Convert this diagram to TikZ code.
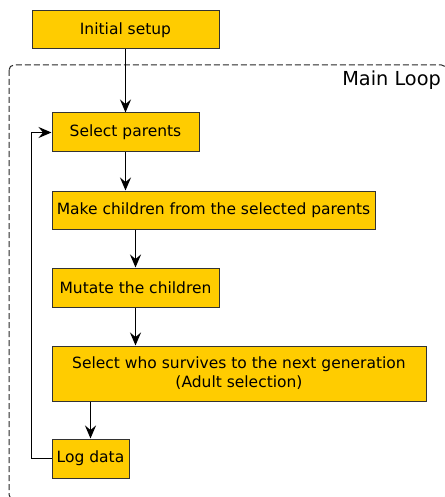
\documentclass[tikz,border=0pt]{standalone}
\usepackage{fontspec}
\setmainfont{DejaVu Sans}
\usetikzlibrary{arrows.meta}

\definecolor{Cstepgold}{HTML}{FFCC00}
\definecolor{Cstepedge}{HTML}{333333}

\tikzset{
  stepbox/.style={draw=Cstepedge,line width=1pt,fill=Cstepgold,
    inner sep=0pt,align=center,font=\fontsize{15.5}{19}\selectfont},
  flow/.style={line width=1.4pt,-{Stealth[length=13pt,width=11pt,inset=4.5pt]}},
  loopframe/.style={line width=1pt,black!85,dash pattern=on 6pt off 3pt,rounded corners=5pt}
}

\begin{document}
\begin{tikzpicture}[x=1pt,y=-1pt]
		\useasboundingbox (0,0) rectangle (444,497);
		% main loop frame
		\draw[loopframe] (9,65) rectangle (446.5,499.5);
		\node[anchor=base east,inner sep=0pt,font=\fontsize{19.3}{23}\selectfont] (looplabel) at (441,86) {Main Loop};
		% steps
		\node[stepbox,minimum width=187pt,minimum height=38pt] (setup) at (125.5,30) {Initial setup};
		\node[stepbox,minimum width=147pt,minimum height=39pt] (parents) at (125.5,132.5) {Select parents};
		\node[stepbox,minimum width=323pt,minimum height=38pt] (children) at (213.5,210) {Make children from the selected parents};
		\node[stepbox,minimum width=167pt,minimum height=39pt] (mutate) at (135.5,287.5) {Mutate the children};
		\node[stepbox,minimum width=374pt,minimum height=55pt] (survive) at (239,373.5) {Select who survives to the next generation\\(Adult selection)};
		\node[stepbox,minimum width=77pt,minimum height=39pt] (logdata) at (90.5,458.5) {Log data};
		% connectors
		\draw[flow] (setup) -- (parents);
		\draw[flow] (parents.south) -- (parents.south |- children.north);
		\draw[flow] (mutate.north |- children.south) -- (mutate.north);
		\draw[flow] (mutate.south) -- (mutate.south |- survive.north);
		\draw[flow] (logdata.north |- survive.south) -- (logdata.north);
		\draw[flow] (logdata.west) -- ++(-20,0) |- (parents.west);
	\end{tikzpicture}
\end{document}
